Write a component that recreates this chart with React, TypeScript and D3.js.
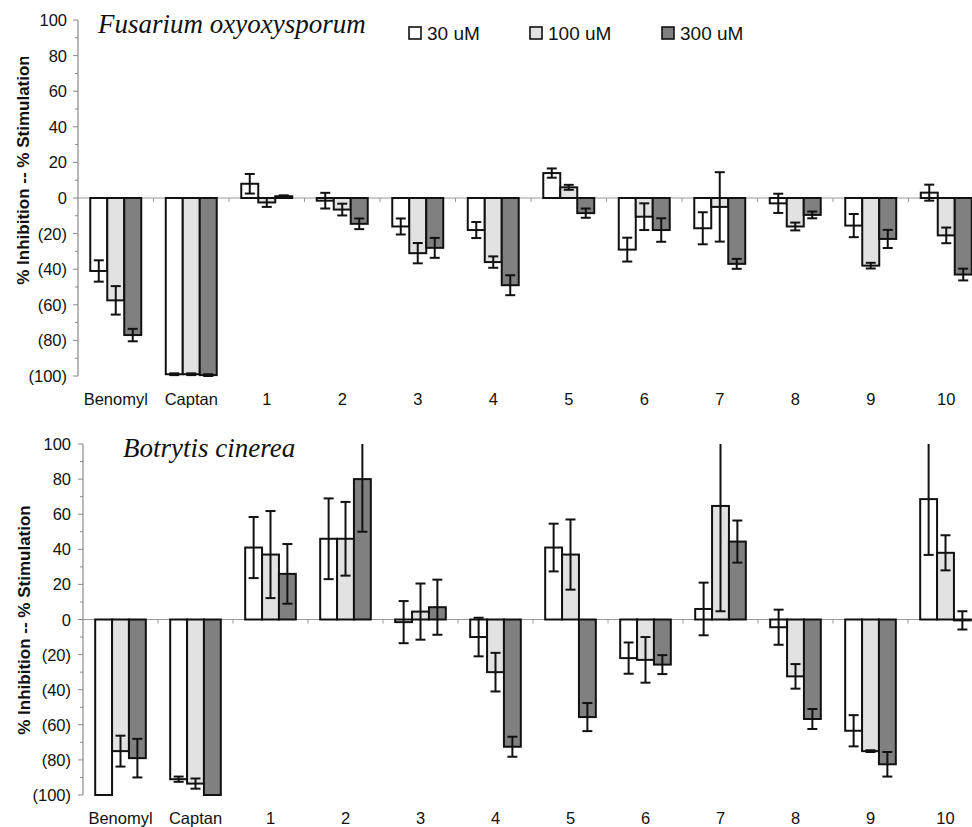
import React from "react";
import * as d3 from "d3";

const categories = ["Benomyl", "Captan", "1", "2", "3", "4", "5", "6", "7", "8", "9", "10"];
const seriesNames = ["30 uM", "100 uM", "300 uM"];
const seriesFills = ["#ffffff", "#e2e2e2", "#808080"];
const yTicks = [100, 80, 60, 40, 20, 0, -20, -40, -60, -80, -100];

// Fusarium oxyoxysporum
const fus30 = [-41, -99, 8, -1.5, -16, -18, 14, -29, -17, -3, -15.5, 3];
const fus30Err = [6, 0.5, 5.5, 4.4, 4.5, 4.5, 2.6, 6.7, 9, 5.4, 6.5, 4.5];
const fus100 = [-57.5, -99, -2.5, -6.5, -31, -36, 6, -10.5, -5, -16, -38, -21];
const fus100Err = [8, 0.5, 2.5, 3.3, 5.7, 3.2, 1.4, 7.5, 19.5, 2.2, 1.6, 4.4];
const fus300 = [-77, -99.5, 1, -14.5, -28, -49, -8.5, -18, -37, -9.5, -23, -43];
const fus300Err = [3.5, 0.5, 0.5, 3, 5.6, 5.6, 2.6, 6.6, 2.8, 1.9, 5.1, 3.3];

// Botrytis cinerea
const bot30 = [-100, -91, 41, 46, -1.5, -10, 41, -22, 6, -4.4, -63.4, 68.6];
const bot30Err = [0, 1.5, 17.4, 23, 12, 11, 13.6, 8.9, 15, 10, 8.9, 31.8];
const bot100 = [-75, -93.5, 37, 46, 4.5, -30, 37, -23, 64.7, -32.4, -75, 38];
const bot100Err = [8.8, 2.9, 24.8, 21, 16, 11, 20, 13, 60, 7, 0.5, 10];
const bot300 = [-79, -100, 26, 80, 7, -72.5, -55.6, -25.7, 44.4, -56.7, -82.5, -0.5];
const bot300Err = [11, 0, 17, 30, 15.7, 5.7, 8, 5.4, 12, 5.7, 7, 5.2];

const SANS = "'Liberation Sans', Arial, Helvetica, sans-serif";
const SERIF = "'Liberation Serif', 'Times New Roman', serif";

type PanelProps = {
  id: string;
  title: string;
  titleX: number;
  titleY: number;
  axisX: number;
  yTop: number;
  yBottom: number;
  step: number;
  values: number[][];
  errs: number[][];
  legend: boolean;
  labelGap: number;
  titleCx: number;
  titleCy: number;
  titleClipTop: number;
};

const fmt = (v: number) => (v < 0 ? `(${Math.abs(v)})` : `${v}`);

function Panel(p: PanelProps) {
  const y = d3.scaleLinear().domain([-100, 100]).range([p.yBottom, p.yTop]);
  const x = d3
    .scaleBand<string>()
    .domain(categories)
    .range([p.axisX, p.axisX + categories.length * p.step])
    .paddingInner(0.325)
    .paddingOuter(0.1625);
  const xs = d3.scaleBand<number>().domain([0, 1, 2]).range([0, x.bandwidth()]).padding(0);
  const bw = xs.bandwidth();
  const y0 = y(0);
  const minorTicks = d3.range(-100, 101, 10);
  const cap = 5;

  return (
    <g>
      <defs>
        <clipPath id={"clip-" + p.id}>
          <rect x={0} y={p.titleClipTop} width={60} height={500} />
        </clipPath>
      </defs>
      {/* y axis */}
      <line x1={p.axisX} x2={p.axisX} y1={p.yTop} y2={p.yBottom} stroke="#8a8a8a" strokeWidth={1.2} />
      {minorTicks.map((t) => (
        <line
          key={"mt" + t}
          x1={p.axisX - (t % 20 === 0 ? 5 : 3)}
          x2={p.axisX}
          y1={y(t)}
          y2={y(t)}
          stroke="#8a8a8a"
          strokeWidth={1}
        />
      ))}
      {yTicks.map((t) => (
        <text
          key={"yt" + t}
          x={p.axisX - p.labelGap}
          y={y(t)}
          textAnchor="end"
          dominantBaseline="central"
          fontFamily={SANS}
          fontSize={16.5}
          fill="#111"
        >
          {fmt(t)}
        </text>
      ))}
      <g clipPath={`url(#clip-${p.id})`}>
        <text
          transform={`translate(${p.titleCx},${p.titleCy}) rotate(-90)`}
          textAnchor="middle"
          dominantBaseline="central"
          fontFamily={SANS}
          fontWeight="bold"
          fontSize={17}
          fill="#111"
        >
          % Inhibition -- % Stimulation
        </text>
      </g>
      {/* zero line */}
      <line x1={p.axisX} x2={972} y1={y0} y2={y0} stroke="#9a9a9a" strokeWidth={1} />
      {categories.map((c, i) => (
        <line
          key={"xt" + c}
          x1={p.axisX + (i + 1) * p.step}
          x2={p.axisX + (i + 1) * p.step}
          y1={y0}
          y2={y0 + 4}
          stroke="#9a9a9a"
          strokeWidth={1}
        />
      ))}
      {/* bars */}
      {p.values.map((vals, s) =>
        vals.map((v, i) => {
          const bx = (x(categories[i]) as number) + (xs(s) as number);
          const top = Math.min(y(v), y0);
          const h = Math.abs(y(v) - y0);
          return (
            <rect
              key={`b${s}-${i}`}
              x={bx}
              y={top}
              width={bw}
              height={h}
              fill={seriesFills[s]}
              stroke="#111"
              strokeWidth={2}
            />
          );
        })
      )}
      {/* error bars */}
      {p.values.map((vals, s) =>
        vals.map((v, i) => {
          const e = p.errs[s][i];
          if (!e) return null;
          const cx = (x(categories[i]) as number) + (xs(s) as number) + bw / 2;
          const hiV = v + e;
          const loV = v - e;
          const hi = y(Math.min(100, hiV));
          const lo = y(Math.max(-100, loV));
          return (
            <g key={`e${s}-${i}`} stroke="#111" strokeWidth={2}>
              <line x1={cx} x2={cx} y1={hi} y2={lo} />
              {hiV <= 100 && <line x1={cx - cap} x2={cx + cap} y1={hi} y2={hi} />}
              {loV >= -100 && <line x1={cx - cap} x2={cx + cap} y1={lo} y2={lo} />}
            </g>
          );
        })
      )}
      {/* category labels */}
      {categories.map((c) => (
        <text
          key={"cl" + c}
          x={(x(c) as number) + x.bandwidth() / 2}
          y={p.yBottom + 29}
          textAnchor="middle"
          fontFamily={SANS}
          fontSize={16.5}
          fill="#111"
        >
          {c}
        </text>
      ))}
      <text x={p.titleX} y={p.titleY} fontFamily={SERIF} fontStyle="italic" fontSize={27} fill="#111">
        {p.title}
      </text>
      {p.legend &&
        seriesNames.map((n, s) => {
          const lx = [409, 530, 662][s];
          return (
            <g key={"lg" + n}>
              <rect x={lx} y={27} width={12} height={12} fill={seriesFills[s]} stroke="#111" strokeWidth={1.6} />
              <text x={lx + 18} y={33} dominantBaseline="central" fontFamily={SANS} fontSize={19} fill="#111">
                {n}
              </text>
            </g>
          );
        })}
    </g>
  );
}

export default function App() {
  return (
    <svg
      width={972}
      height={827}
      viewBox="0 0 972 827"
      style={{ position: "absolute", left: 0, top: 0, background: "#fff" }}
    >
      <rect x={0} y={0} width={972} height={827} fill="#fff" />
      <Panel
        id="top"
        title="Fusarium oxyoxysporum"
        titleX={98}
        titleY={33}
        axisX={78}
        yTop={20}
        yBottom={376}
        step={75.5}
        values={[fus30, fus100, fus300]}
        errs={[fus30Err, fus100Err, fus300Err]}
        legend={true}
        labelGap={11}
        titleCx={23}
        titleCy={170}
        titleClipTop={57}
      />
      <Panel
        id="bottom"
        title="Botrytis cinerea"
        titleX={123}
        titleY={457}
        axisX={83}
        yTop={444}
        yBottom={795}
        step={75}
        values={[bot30, bot100, bot300]}
        errs={[bot30Err, bot100Err, bot300Err]}
        legend={false}
        labelGap={12}
        titleCx={24}
        titleCy={620}
        titleClipTop={420}
      />
    </svg>
  );
}
